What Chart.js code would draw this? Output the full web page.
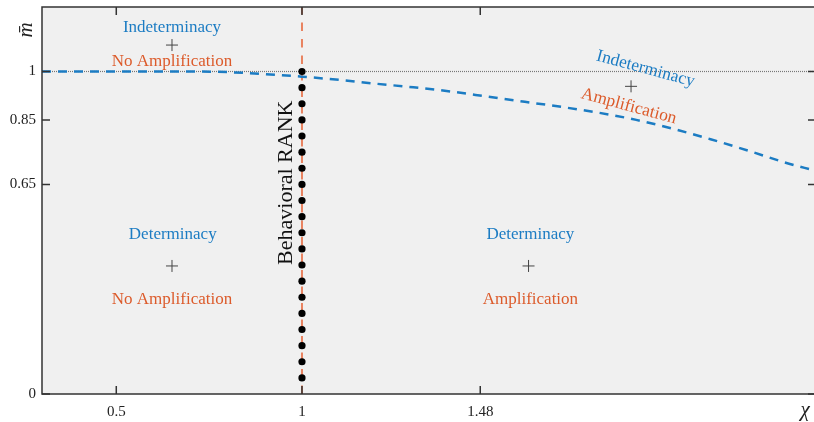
<!DOCTYPE html>
<html>
<head>
<meta charset="utf-8">
<script src="https://cdn.jsdelivr.net/npm/chart.js@4"></script>
<style>
  html, body { margin: 0; padding: 0; background: #fff; overflow: hidden; }
  #wrap { width: 817px; height: 422px; }
</style>
</head>
<body>
<div id="wrap"><canvas id="myChart" width="817" height="422"></canvas></div>
<script>
// blue boundary curve
const chiCurve = [0.3, 0.5, 0.7, 0.8, 0.9, 1.0, 1.1, 1.2, 1.3, 1.4, 1.5, 1.6, 1.7, 1.8, 1.9, 2.0, 2.1, 2.2, 2.3, 2.38];
const mCurve = [1, 1, 1, 0.998, 0.992, 0.984, 0.974, 0.962, 0.951, 0.938, 0.922, 0.906, 0.89, 0.872, 0.85, 0.822, 0.79, 0.755, 0.718, 0.693];

// behavioral RANK dots at chi = 1
const rankChi = 1;
const rankM = [1, 0.95, 0.9, 0.85, 0.8, 0.75, 0.7, 0.65, 0.6, 0.55, 0.5, 0.45, 0.4, 0.35, 0.3, 0.25, 0.2, 0.15, 0.1, 0.05];

// "+" markers of each region
const markerChi = [0.65, 0.65, 1.61, 1.886];
const markerM = [1.082, 0.397, 0.397, 0.954];

const xTicks = [0.5, 1, 1.48];
const xTickLabels = ["0.5", "1", "1.48"];
const yTicks = [0, 0.65, 0.85, 1];
const yTickLabels = ["0", "0.65", "0.85", "1"];

const xMin = 0.3, xMax = 2.384;
const yMin = 0, yMax = 1.2;

const BLUE = "#1c7cc3";
const ORANGE = "#dc5b2b";
const FONT = "'Liberation Serif', 'DejaVu Serif', serif";

const notes = [
  { text: "Indeterminacy", chi: 0.65, m: 1.135, color: BLUE, angle: 0, size: 17 },
  { text: "No Amplification", chi: 0.65, m: 1.032, color: ORANGE, angle: 0, size: 17 },
  { text: "Determinacy", chi: 0.652, m: 0.493, color: BLUE, angle: 0, size: 17 },
  { text: "No Amplification", chi: 0.65, m: 0.293, color: ORANGE, angle: 0, size: 17 },
  { text: "Determinacy", chi: 1.615, m: 0.493, color: BLUE, angle: 0, size: 17 },
  { text: "Amplification", chi: 1.615, m: 0.293, color: ORANGE, angle: 0, size: 17 },
  { text: "Indeterminacy", chi: 1.925, m: 1.008, color: BLUE, angle: 15, size: 17.5 },
  { text: "Amplification", chi: 1.88, m: 0.892, color: ORANGE, angle: 15, size: 17.5 },
  { text: "Behavioral RANK", chi: 0.958, m: 0.655, color: "#111", angle: -90, size: 22 },
];

const noPad = (scale) => {
  scale.paddingTop = 0;
  scale.paddingBottom = 0;
  scale.paddingLeft = 0;
  scale.paddingRight = 0;
};

const frame = {
  id: "frame",
  beforeDraw(chart) {
    const { ctx, chartArea: a } = chart;
    ctx.save();
    ctx.fillStyle = "#f0f0f0";
    ctx.fillRect(a.left, a.top, a.right - a.left, a.bottom - a.top);
    ctx.restore();
  },
  afterDatasetsDraw(chart) {
    const { ctx, chartArea: a, scales } = chart;
    ctx.save();
    ctx.textAlign = "center";
    ctx.textBaseline = "middle";
    notes.forEach((n) => {
      ctx.save();
      ctx.translate(scales.x.getPixelForValue(n.chi), scales.y.getPixelForValue(n.m));
      ctx.rotate((n.angle * Math.PI) / 180);
      ctx.font = n.size + "px " + FONT;
      ctx.fillStyle = n.color;
      ctx.fillText(n.text, 0, 0);
      ctx.restore();
    });
    ctx.restore();
  },
  afterDraw(chart) {
    const { ctx, chartArea: a, scales } = chart;
    ctx.save();
    ctx.strokeStyle = "#333";
    ctx.lineWidth = 1.5;
    ctx.strokeRect(a.left, a.top, a.right - a.left, a.bottom - a.top);
    ctx.beginPath();
    xTicks.forEach((v) => {
      const px = scales.x.getPixelForValue(v);
      ctx.moveTo(px, a.bottom); ctx.lineTo(px, a.bottom - 8);
      ctx.moveTo(px, a.top); ctx.lineTo(px, a.top + 8);
    });
    yTicks.forEach((v) => {
      const py = scales.y.getPixelForValue(v);
      ctx.moveTo(a.left, py); ctx.lineTo(a.left + 8, py);
      ctx.moveTo(a.right, py); ctx.lineTo(a.right - 8, py);
    });
    ctx.stroke();

    ctx.fillStyle = "#222";
    ctx.textAlign = "center";
    ctx.textBaseline = "middle";
    ctx.font = "italic 21px " + FONT;
    ctx.save();
    ctx.translate(a.left - 16, a.top + 23);
    ctx.rotate(-Math.PI / 2);
    ctx.fillText("m\u0304", 0, 0);
    ctx.restore();
    ctx.font = "italic 21px " + FONT;
    ctx.fillText("\u03c7", a.right - 11, a.bottom + 16);
    ctx.restore();
  },
};

const ctx = document.getElementById("myChart").getContext("2d");

const myChart = new Chart(ctx, {
  type: "scatter",
  data: {
    datasets: [
      {
        label: "RANK",
        data: rankM.map((m) => ({ x: rankChi, y: m })),
        pointRadius: 3.6,
        pointBackgroundColor: "#000",
        pointBorderColor: "#000",
        pointBorderWidth: 0,
        showLine: false,
        order: 0,
      },
      {
        label: "markers",
        data: markerChi.map((c, i) => ({ x: c, y: markerM[i] })),
        pointStyle: "cross",
        pointRadius: 6,
        pointBorderColor: "#444",
        pointBorderWidth: 1,
        showLine: false,
        order: 1,
      },
      {
        label: "boundary",
        data: chiCurve.map((c, i) => ({ x: c, y: mCurve[i] })),
        showLine: true,
        borderColor: BLUE,
        borderWidth: 2.5,
        borderDash: [9, 7],
        pointRadius: 0,
        cubicInterpolationMode: "monotone",
        order: 2,
      },
      {
        label: "chi = 1",
        data: [{ x: 1, y: yMin }, { x: 1, y: yMax }],
        showLine: true,
        borderColor: "#e98360",
        borderWidth: 2,
        borderDash: [8.5, 8],
        pointRadius: 0,
        order: 3,
      },
      {
        label: "m = 1",
        data: [{ x: xMin, y: 1 }, { x: xMax, y: 1 }],
        showLine: true,
        borderColor: "#777",
        borderWidth: 1.2,
        borderDash: [1, 1],
        pointRadius: 0,
        order: 4,
      },
    ],
  },
  options: {
    responsive: false,
    animation: false,
    events: [],
    layout: { autoPadding: false, padding: { top: 7, right: 1, left: 0, bottom: 0 } },
    plugins: { legend: { display: false }, tooltip: { enabled: false } },
    scales: {
      x: {
        type: "linear",
        min: xMin,
        max: xMax,
        afterBuildTicks: (scale) => { scale.ticks = xTicks.map((v) => ({ value: v })); },
        afterFit: (scale) => { scale.height = 28; noPad(scale); },
        grid: { display: false, drawTicks: false },
        border: { display: false },
        ticks: {
          autoSkip: false,
          maxRotation: 0,
          padding: 9,
          color: "#222",
          font: { family: FONT, size: 15 },
          callback: (v) => xTickLabels[xTicks.indexOf(v)],
        },
      },
      y: {
        type: "linear",
        min: yMin,
        max: yMax,
        afterBuildTicks: (scale) => { scale.ticks = yTicks.map((v) => ({ value: v })); },
        afterFit: (scale) => { scale.width = 42; noPad(scale); },
        grid: { display: false, drawTicks: false },
        border: { display: false },
        ticks: {
          autoSkip: false,
          padding: 6,
          color: "#222",
          font: { family: FONT, size: 15 },
          callback: (v) => yTickLabels[yTicks.indexOf(v)],
        },
      },
    },
  },
  plugins: [frame],
});
</script>
</body>
</html>
